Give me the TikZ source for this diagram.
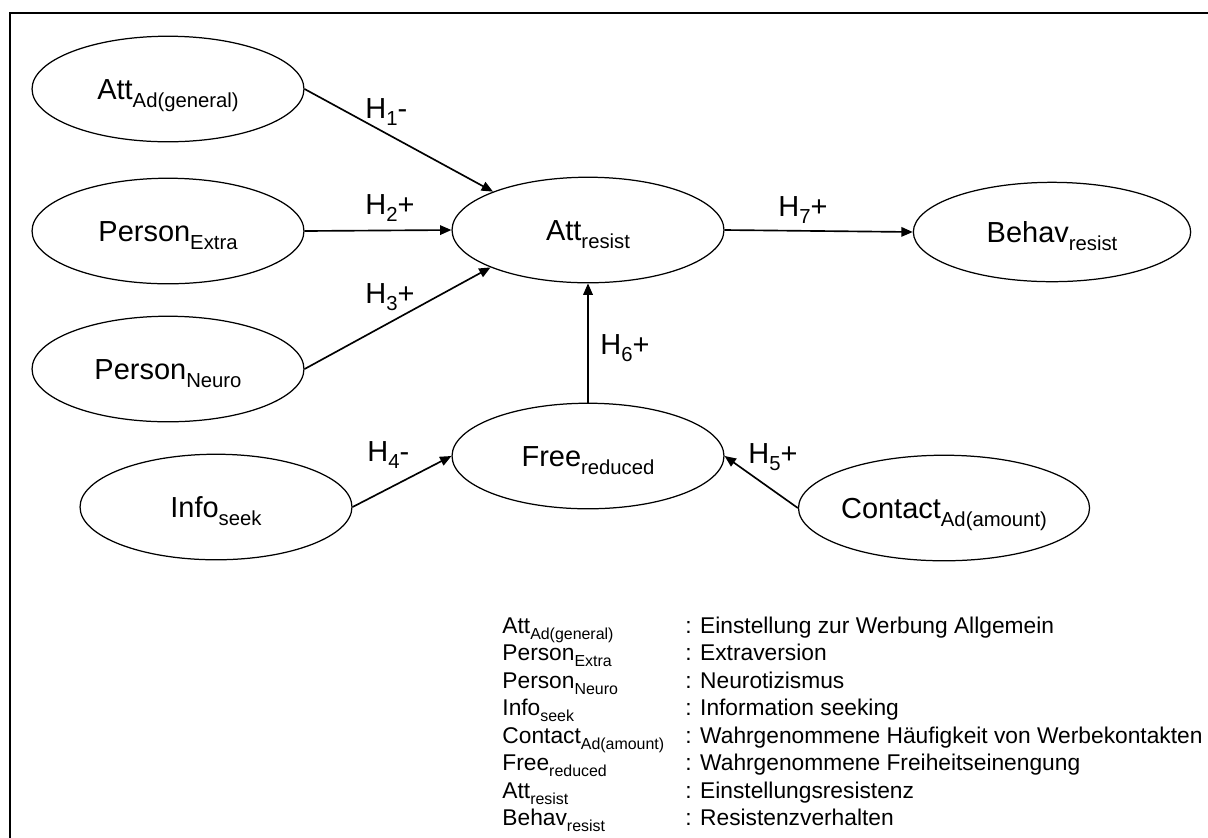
\documentclass[tikz,border=0pt]{standalone}
\usepackage{fontspec}
\setmainfont{Liberation Sans}
\usetikzlibrary{shapes.geometric,arrows.meta}
\makeatletter
\newcommand{\subtx}[1]{\raisebox{-0.27em}{\fontsize{\fpeval{0.7*\f@size}}{0}\selectfont #1}}
\makeatother
\begin{document}
\begin{tikzpicture}[x=0.4832pt, y=-0.4832pt,
      % --- GLOBAL STYLES ---
      every node/.style={font=\fontsize{14}{16.8}\selectfont},
      construct/.style={ellipse, draw=black, line width=0.6pt, minimum width=131.4pt, minimum height=51pt, inner sep=0pt, text height=12pt, text depth=1.4pt},
      hyp/.style={anchor=base west, inner sep=0pt},
      key/.style={anchor=base west, inner sep=0pt, font=\fontsize{11}{13.2}\selectfont},
      line/.style={line width=0.8pt, -{Triangle[length=5.5pt, width=4.6pt]}},
      frame/.style={line width=1.1pt}
  ]
    \useasboundingbox (0,0) rectangle (1208,837);
    %
    % 1. Frame
    \draw[frame] (10,13) rectangle (1240,870);
    %
    % 2. Constructs
    \node[construct] (attad) at (168,89) {Att\subtx{Ad(general)}};
    \node[construct] (extra) at (168,231) {Person\subtx{Extra}};
    \node[construct] (neuro) at (168,369) {Person\subtx{Neuro}};
    \node[construct] (info) at (216,507) {Info\subtx{seek}};
    \node[construct] (attr) at (588,230) {Att\subtx{resist}};
    \node[construct] (free) at (588,456) {Free\subtx{reduced}};
    \node[construct] (contact) at (944,508) {Contact\subtx{Ad(amount)}};
    \node[construct, minimum width=134pt, minimum height=48pt] (behav) at (1052,232) {Behav\subtx{resist}};
    %
    % 3. Paths
    \draw[line] (attad.east) -- (attr.158);
    \draw[line] (extra.east) -- (attr.west);
    \draw[line] (neuro.east) -- (attr.201);
    \draw[line] (info.east) -- (free.west);
    \draw[line] (contact.west) -- (free.east);
    \draw[line] (free.north) -- (attr.south);
    \draw[line] (attr.east) -- (behav.west);
    %
    % 4. Hypotheses
    \node[hyp] (h1) at (365,118) {H\subtx{1}-};
    \node[hyp] (h2) at (365,214) {H\subtx{2}+};
    \node[hyp] (h3) at (365,303) {H\subtx{3}+};
    \node[hyp] (h4) at (367,461) {H\subtx{4}-};
    \node[hyp] (h5) at (748,463) {H\subtx{5}+};
    \node[hyp] (h6) at (600,354) {H\subtx{6}+};
    \node[hyp] (h7) at (778,216) {H\subtx{7}+};
    %
    % 5. Legend
    \node[key] (k1) at (502,633) {Att\subtx{Ad(general)}};
    \node[key] (k2) at (502,660.5) {Person\subtx{Extra}};
    \node[key] (k3) at (502,688) {Person\subtx{Neuro}};
    \node[key] (k4) at (502,715.5) {Info\subtx{seek}};
    \node[key] (k5) at (502,743) {Contact\subtx{Ad(amount)}};
    \node[key] (k6) at (502,770.5) {Free\subtx{reduced}};
    \node[key] (k7) at (502,798) {Att\subtx{resist}};
    \node[key] (k8) at (502,825.5) {Behav\subtx{resist}};
    \node[key] (d1) at (685,633) {: Einstellung zur Werbung Allgemein};
    \node[key] (d2) at (685,660.5) {: Extraversion};
    \node[key] (d3) at (685,688) {: Neurotizismus};
    \node[key] (d4) at (685,715.5) {: Information seeking};
    \node[key] (d5) at (685,743) {: Wahrgenommene Häufigkeit von Werbekontakten};
    \node[key] (d6) at (685,770.5) {: Wahrgenommene Freiheitseinengung};
    \node[key] (d7) at (685,798) {: Einstellungsresistenz};
    \node[key] (d8) at (685,825.5) {: Resistenzverhalten};
  \end{tikzpicture}
\end{document}
